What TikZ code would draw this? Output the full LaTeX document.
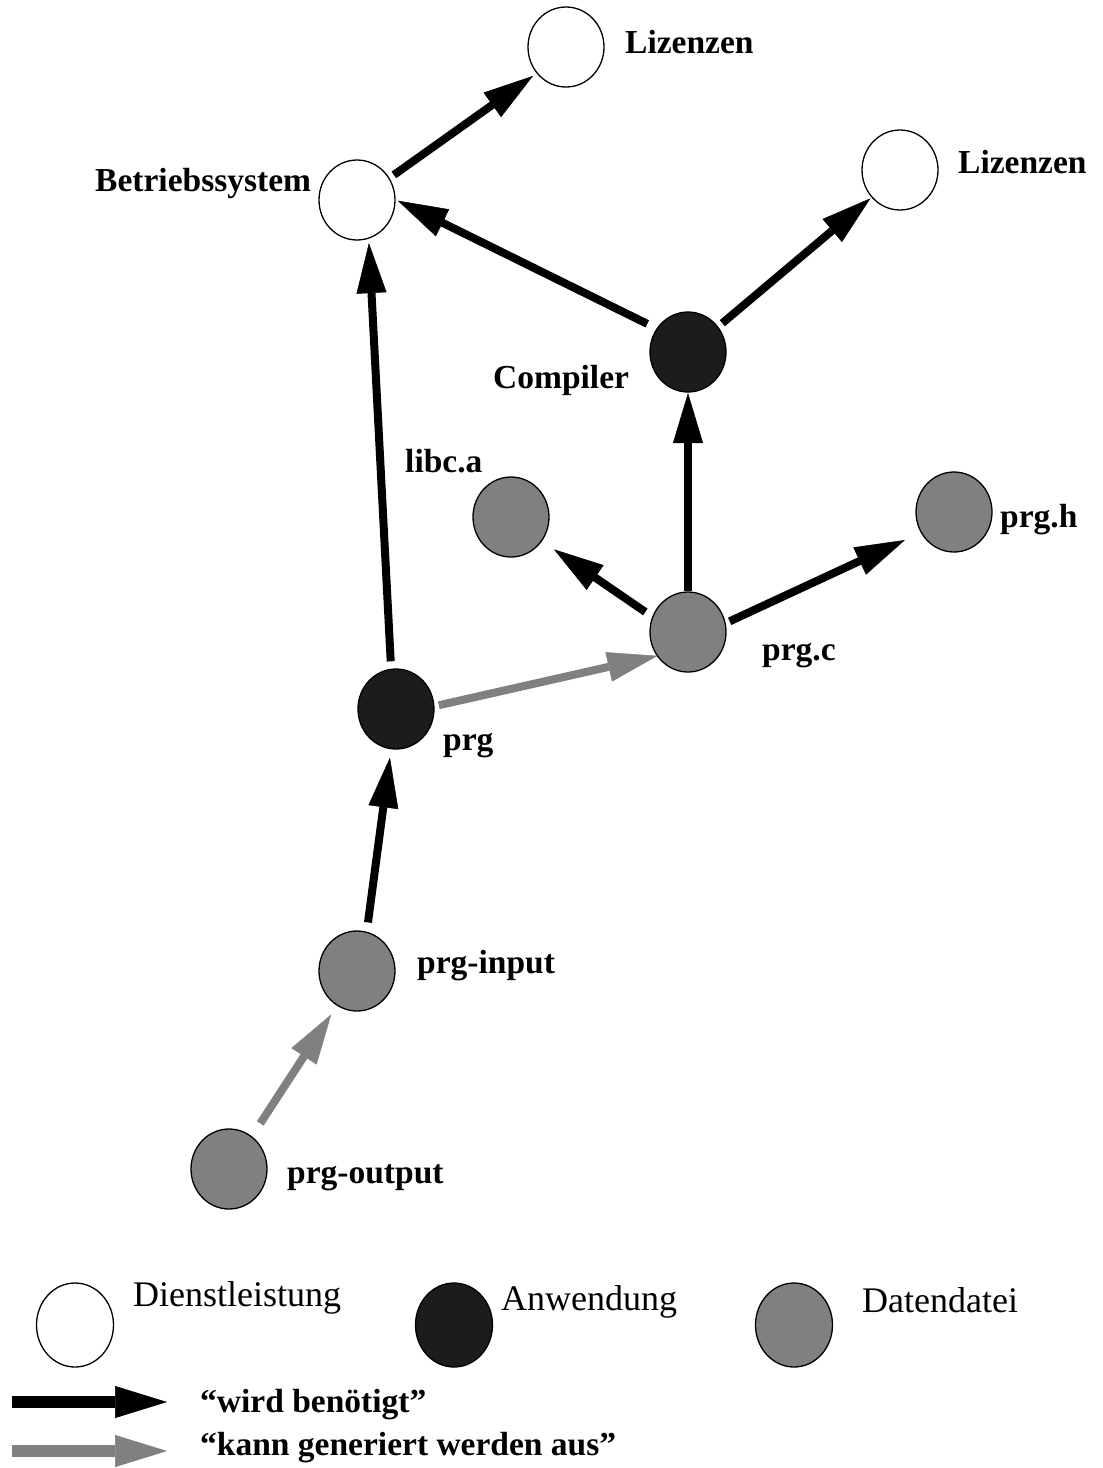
\documentclass[tikz,border=0pt]{standalone}
\usepackage{fontspec}
\setmainfont{Liberation Serif}
\usetikzlibrary{arrows.meta,shapes.geometric}
\definecolor{appblack}{RGB}{28,28,28}
\definecolor{datagray}{RGB}{128,128,128}
\begin{document}
\begin{tikzpicture}[x=1pt,y=-1pt,
  obj/.style={ellipse,draw=black,line width=1.3pt,minimum width=76pt,minimum height=80pt,inner sep=0pt,outer sep=0pt},
  svc/.style={obj,fill=white},
  app/.style={obj,fill=appblack},
  dat/.style={obj,fill=datagray},
  keyshape/.style={minimum width=77pt,minimum height=84pt},
  lbl/.style={anchor=base west,inner sep=0pt,font=\fontsize{33.5}{40}\selectfont\bfseries},
  txt/.style={anchor=base west,inner sep=0pt,font=\fontsize{36}{42}\selectfont},
  need/.style={line width=8pt,draw=black,-{Triangle[length=50pt,width=30pt,line width=0.5pt]}},
  gen/.style={need,draw=datagray},
  keyneed/.style={line width=12pt,draw=black,-{Triangle[length=52pt,width=32pt,line width=0.5pt]}},
  keygen/.style={keyneed,draw=datagray},
]
\useasboundingbox (0,0) rectangle (1103,1468);
\fill[white] (0,0) rectangle (1103,1468);

% objects
\node[svc] (liz1) at (566,47)  {};
\node[svc] (bs)   at (357,200) {};
\node[svc] (liz2) at (900,170) {};
\node[app] (comp) at (688,352) {};
\node[dat] (libc) at (511,517) {};
\node[dat] (prgh) at (954,512) {};
\node[dat] (prgc) at (688,632) {};
\node[app] (prg)  at (396,709) {};
\node[dat] (pin)  at (357,971) {};
\node[dat] (pout) at (229,1169) {};

% object labels
\node[lbl] (t-liz1) at (625,53)   {Lizenzen};
\node[lbl] (t-bs)   at (95,191)   {Betriebssystem};
\node[lbl] (t-liz2) at (958,173)  {Lizenzen};
\node[lbl] (t-comp) at (493,388)  {Compiler};
\node[lbl] (t-libc) at (405,472)  {libc.a};
\node[lbl] (t-prgh) at (1000,527) {prg.h};
\node[lbl] (t-prgc) at (762,660)  {prg.c};
\node[lbl] (t-prg)  at (443,750)  {prg};
\node[lbl] (t-pin)  at (417,973)  {prg-input};
\node[lbl] (t-pout) at (287,1183) {prg-output};

% dependencies
\draw[need,shorten <=6pt,shorten >=5pt]  (bs.34)    -- (liz1.-138);
\draw[need,shorten <=11pt,shorten >=3pt] (comp.143) -- (bs.1);
\draw[need,shorten <=6pt,shorten >=2pt]  (comp.40)  -- (liz2.-136);
\draw[need,shorten <=8pt,shorten >=5pt]  (prg.97)   -- (bs.-73);
\draw[need,shorten <=1pt,shorten >=1pt]  (prgc)     -- (comp);
\draw[need,shorten <=9pt,shorten >=15pt] (prgc.157) -- (libc.-38);
\draw[need,shorten <=5pt,shorten >=18pt] (prgc.13)  -- (prgh.-148);
\draw[need,shorten <=10pt,shorten >=9pt] (pin.76)   -- (prg.-97);
% generation
\draw[gen,shorten <=5pt]                 (prg.4)    -- (prgc.-142);
\draw[gen,shorten <=16pt,shorten >=11pt] (pout.55)  -- (pin.-120);

% key
\node[svc,keyshape] (k-svc) at (75,1325)  {};
\node[app,keyshape] (k-app) at (454,1325) {};
\node[dat,keyshape] (k-dat) at (794,1325) {};
\node[txt] (k-svc-t) at (133,1306) {Dienstleistung};
\node[txt] (k-app-t) at (501,1310) {Anwendung};
\node[txt] (k-dat-t) at (862,1312) {Datendatei};

\coordinate (k-need-a) at (12,1402);
\coordinate (k-need-b) at (167,1402);
\coordinate (k-gen-a)  at (12,1451);
\coordinate (k-gen-b)  at (167,1451);
\draw[keyneed] (k-need-a) -- (k-need-b);
\draw[keygen]  (k-gen-a)  -- (k-gen-b);
\node[lbl] (k-need-t) at (200,1412) {“wird benötigt”};
\node[lbl] (k-gen-t)  at (200,1455) {“kann generiert werden aus”};
\end{tikzpicture}
\end{document}
